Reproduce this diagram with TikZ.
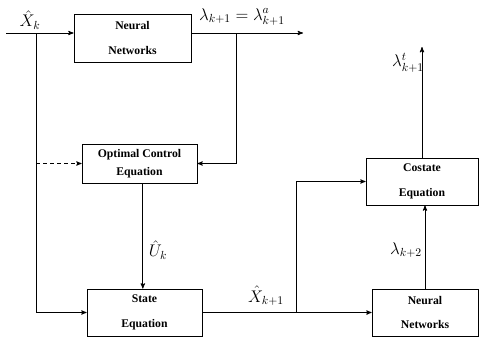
\documentclass[tikz,border=0pt]{standalone}
\usepackage{fontspec}
\setmainfont{Liberation Serif}
\usepackage{amsmath}
\usetikzlibrary{calc,positioning,arrows}

\begin{document}
\begin{tikzpicture}[x=0.03cm,y=-0.03cm,>=stealth',line width=0.7pt,
    block/.style={draw,rectangle,align=center,inner sep=0pt,font=\fontsize{10}{21}\selectfont\bfseries},
    lbl/.style={font=\fontsize{14}{16}\selectfont}]
    \useasboundingbox (0,0) rectangle (480,337);
    \node[block,minimum width=3.51cm,minimum height=1.44cm] (nn1) at (132.5,38) {Neural\\Networks};
    \node[block,minimum width=3.45cm,minimum height=1.17cm,font=\fontsize{10}{15}\selectfont\bfseries] (oce) at (139.5,163.5) {Optimal Control\\Equation};
    \node[block,minimum width=3.45cm,minimum height=1.41cm] (state) at (144.5,312.5) {State\\Equation};
    \node[block,minimum width=3.36cm,minimum height=1.41cm] (costate) at (422,181.5) {Costate\\Equation};
    \node[block,minimum width=3.18cm,minimum height=1.41cm] (nn2) at (425,312.5) {Neural\\Networks};
    \coordinate (in) at (6,33);
    \coordinate (b1) at (36,33);
    \coordinate (b2) at (236,33);
    \coordinate (out) at (303,33);
    \coordinate (b3) at (296,312.5);
    \coordinate (lt) at (422,47);
    %
    \node[lbl] (xk) at (30,20) {$\hat{X}_k$};
    \node[lbl] (lam) at (242,17) {$\lambda_{k+1}=\lambda^a_{k+1}$};
    \node[lbl] (uk) at (158,250) {$\hat{U}_k$};
    \node[lbl] (xk1) at (266,296) {$\hat{X}_{k+1}$};
    \node[lbl] (lamt) at (408,63) {$\lambda^t_{k+1}$};
    \node[lbl] (lam2) at (406,250) {$\lambda_{k+2}$};

    \draw[->] (in) -- (in -| nn1.west);
    \draw[->] (b1) |- (state.west);
    \draw[->,dashed] (b1 |- oce.west) -- (oce.west);
    \draw[->] (nn1.east |- in) -- (out);
    \draw[->] (b2) |- (oce.east);
    \draw[->] ([xshift=0.1cm]oce.south) -- ([xshift=0.1cm]oce.south |- state.north);
    \draw[->] (state.east) -- (nn2.west);
    \draw[->] (b3) |- (costate.west);
    \draw[->] (nn2.north) -- (nn2.north |- costate.south);
    \draw[->] (costate.north) -- (lt);
\end{tikzpicture}
\end{document}
